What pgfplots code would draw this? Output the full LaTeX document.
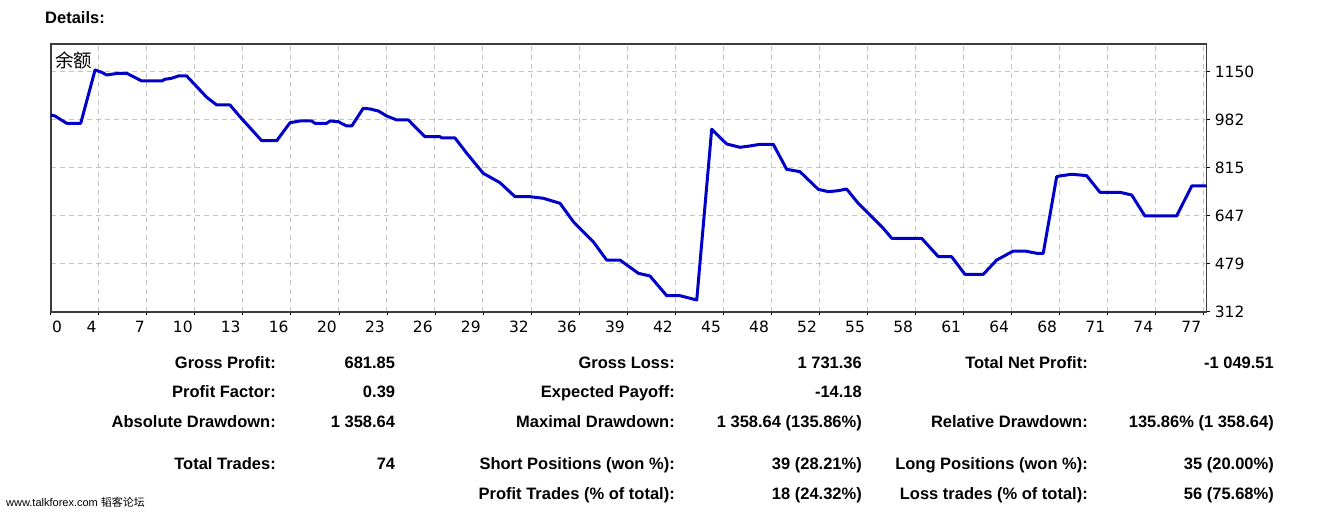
\documentclass[border=0pt]{standalone}
\usepackage{fontspec}
\usepackage{pgfplots}
\pgfplotsset{compat=1.18}
\setmainfont{Liberation Sans}
\newfontfamily\dejavu{DejaVu Sans}
\newfontfamily\cjk{Noto Sans CJK SC}
\definecolor{lineblue}{RGB}{0,0,200}
\definecolor{gridgray}{RGB}{196,196,196}
\definecolor{framegray}{RGB}{60,60,60}
\begin{document}
\begin{tikzpicture}
\path[use as bounding box] (0pt,0pt) rectangle (1320pt,512pt);
\begin{axis}[
  at={(50.7pt,200.3pt)}, anchor=south west,
  width=1156pt, height=267.4pt, scale only axis,
  xmin=0, xmax=76.6, ymin=312, ymax=1245.6,
  xtick={0,3.18,6.37,9.55,12.73,15.91,19.10,22.28,25.46,28.64,31.83,35.01,38.19,41.37,44.56,47.74,50.92,54.10,57.29,60.47,63.65,66.83,70.02,73.20,76.38},
  xticklabels={\rlap{\hspace*{4pt}0},4,7,10,13,16,20,23,26,29,32,36,39,42,45,48,52,55,58,61,64,68,71,74,77},
  ytick={312,479.6,647.2,814.8,982.4,1150},
  yticklabels={312,479,647,815,982,1150},
  xtick pos=bottom, ytick pos=right, yticklabel pos=right,
  tick align=outside, major tick length=3pt,
  tick style={black, line width=0.8pt},
  xticklabel style={anchor=north east, inner sep=0pt, yshift=-6pt, xshift=-2pt, font=\dejavu\fontsize{15.5}{15.5}\selectfont},
  yticklabel style={anchor=west, inner sep=0pt, xshift=5pt, font=\dejavu\fontsize{15.5}{15.5}\selectfont},
  grid=major,
  grid style={gridgray, line width=1pt, dash pattern=on 5pt off 4pt},
  axis line style={framegray, line width=1.6pt},
]
\addplot[color=lineblue, line width=3pt, line join=round] coordinates {
(0,998.8) (0.28,995.3) (1.06,969.8) (1.99,969.8) (2.94,1155.9) (3.38,1147.9)
(3.71,1138.5) (4.48,1144.4) (5.04,1144.4) (6.03,1117.5) (7.36,1117.5) (7.57,1123.5)
(8.02,1127.0) (8.46,1135.0) (9.01,1135.0) (10.34,1060.6) (11.00,1033.7) (11.88,1033.7)
(12.54,992.9) (13.98,909.1) (14.98,909.1) (15.86,971.9) (16.52,977.9) (17.29,977.9)
(17.51,969.8) (18.29,969.8) (18.51,977.9) (19.06,975.4) (19.61,960.4) (19.95,960.4)
(20.71,1022.2) (21.16,1019.8) (21.71,1012.8) (22.26,995.3) (22.93,981.4) (23.70,981.4)
(24.80,923.0) (25.80,923.0) (25.91,918.5) (26.79,918.5) (27.57,865.1) (28.66,795.3)
(29.77,762.4) (30.77,713.5) (31.76,713.5) (32.64,708.0) (33.75,690.5) (34.63,626.3)
(35.95,556.4) (36.84,492.5) (37.72,492.5) (38.94,446.1) (39.71,436.7) (40.82,367.9)
(41.70,367.9) (42.81,352.9) (43.80,948.9) (44.79,897.6) (45.68,886.0) (46.34,890.6)
(47.00,896.5) (47.88,896.5) (48.77,809.2) (49.65,800.8) (50.86,739.4) (51.53,731.0)
(52.19,734.5) (52.74,740.4) (53.51,690.5) (54.07,661.2) (55.17,603.2) (55.73,568.3)
(57.71,568.3) (58.82,504.0) (59.70,504.0) (60.58,442.6) (61.80,442.6) (62.69,492.5)
(63.79,523.9) (64.56,523.9) (65.34,515.9) (65.77,515.9) (66.66,783.4) (66.99,786.9)
(67.65,791.8) (68.20,789.3) (68.65,786.9) (69.53,728.9) (70.85,728.9) (71.63,719.5)
(72.51,646.2) (74.61,646.2) (75.61,750.9) (76.60,750.9)
};
\end{axis}
% chart label
\node[anchor=base west, inner sep=0pt, font=\cjk\fontsize{18.5}{18.5}\selectfont] at (55pt,444pt) {余额};
% title
\node[anchor=base west, inner sep=0pt, font=\bfseries\fontsize{16.5}{16.5}\selectfont] at (45pt,488pt) {Details:};
% stats
\begin{scope}[every node/.style={anchor=base east, inner sep=0pt, font=\bfseries\fontsize{16.5}{16.5}\selectfont}]
\node at (276pt,143.7pt) {Gross Profit:};
\node at (395.3pt,143.7pt) {681.85};
\node at (675pt,143.7pt) {Gross Loss:};
\node at (862pt,143.7pt) {1 731.36};
\node at (1088pt,143.7pt) {Total Net Profit:};
\node at (1274pt,143.7pt) {-1 049.51};
\node at (276pt,114.2pt) {Profit Factor:};
\node at (395.3pt,114.2pt) {0.39};
\node at (675pt,114.2pt) {Expected Payoff:};
\node at (862pt,114.2pt) {-14.18};
\node at (276pt,84.7pt) {Absolute Drawdown:};
\node at (395.3pt,84.7pt) {1 358.64};
\node at (675pt,84.7pt) {Maximal Drawdown:};
\node at (862pt,84.7pt) {1 358.64 (135.86\%)};
\node at (1088pt,84.7pt) {Relative Drawdown:};
\node at (1274pt,84.7pt) {135.86\% (1 358.64)};
\node at (276pt,42.5pt) {Total Trades:};
\node at (395.3pt,42.5pt) {74};
\node at (675pt,42.5pt) {Short Positions (won \%):};
\node at (862pt,42.5pt) {39 (28.21\%)};
\node at (1088pt,42.5pt) {Long Positions (won \%):};
\node at (1274pt,42.5pt) {35 (20.00\%)};
\node at (675pt,12.3pt) {Profit Trades (\% of total):};
\node at (862pt,12.3pt) {18 (24.32\%)};
\node at (1088pt,12.3pt) {Loss trades (\% of total):};
\node at (1274pt,12.3pt) {56 (75.68\%)};
\end{scope}
% watermark
\node[anchor=base west, inner sep=0pt, font=\fontsize{11}{11}\selectfont] at (6pt,6pt) {www.talkforex.com {\cjk 韬客论坛}};
\end{tikzpicture}
\end{document}
